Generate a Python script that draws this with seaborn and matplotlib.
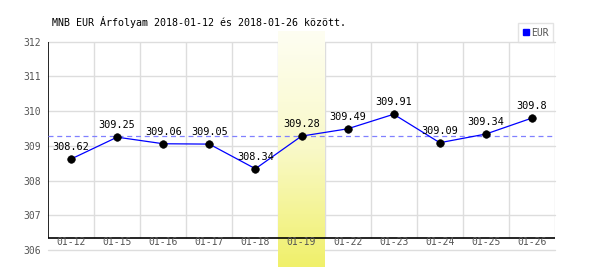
import numpy as np
import pandas as pd
import matplotlib
matplotlib.use("Agg")
import matplotlib.pyplot as plt
import seaborn as sns
from matplotlib.colors import LinearSegmentedColormap
from matplotlib.lines import Line2D

dates = ["01-12", "01-15", "01-16", "01-17", "01-18", "01-19",
         "01-22", "01-23", "01-24", "01-25", "01-26"]
rates = [308.62, 309.25, 309.06, 309.05, 308.34, 309.28,
         309.49, 309.91, 309.09, 309.34, 309.8]
label_texts = ["308.62", "309.25", "309.06", "309.05", "308.34", "309.28",
               "309.49", "309.91", "309.09", "309.34", "309.8"]
average = 309.27
highlight = "01-19"
y_ticks = [306, 307, 308, 309, 310, 311, 312]
title = "MNB EUR Árfolyam 2018-01-12 és 2018-01-26 között."
series_name = "EUR"

df = pd.DataFrame({"date": dates, "rate": rates})

sns.set_style("white")
plt.rcParams["font.family"] = ["DejaVu Sans Mono", "DejaVu Sans"]

fig = plt.figure(figsize=(6, 2.7), dpi=100)
ax = fig.add_axes([0.08, 0.0741, 0.845, 0.7715])
n = len(dates)
ymin_axis = 306.34

grid_c = "#dddddd"
for yv in y_ticks:
    ax.axhline(yv, color=grid_c, lw=1, zorder=0.5, clip_on=False)
for i in range(1, n + 1):
    ax.vlines(i - 0.5, ymin_axis, y_ticks[-1], color=grid_c, lw=1, zorder=0.5)

# highlight band gradient
hi = dates.index(highlight)
cmap = LinearSegmentedColormap.from_list("hl", ["#fefef2", "#f9f9c8", "#f0f06a"])
grad = np.linspace(0, 1, 256).reshape(-1, 1)
im = ax.imshow(grad, cmap=cmap, aspect="auto",
               extent=(hi - 0.5, hi + 0.5, 305.5, 312.27),
               origin="upper", zorder=0.8, interpolation="bilinear")
im.set_clip_on(False)
ax.set_xlim(-0.5, n - 0.5)
ax.set_ylim(y_ticks[0], y_ticks[-1])

ax.hlines(ymin_axis, -0.5, n - 0.5, color="black", lw=1.2, zorder=2)
ax.vlines(-0.5, ymin_axis, y_ticks[-1], color="black", lw=1.2, zorder=2)

ax.axhline(average, color="#8080ff", lw=0.9, ls=(0, (4, 3)), zorder=2)

sns.lineplot(data=df, x="date", y="rate", ax=ax, color="#0000ff", lw=0.9,
             sort=False, zorder=3, legend=False)
sns.scatterplot(data=df, x="date", y="rate", ax=ax, color="black", s=30,
                edgecolor="black", zorder=4, legend=False)
for i, (v, t) in enumerate(zip(rates, label_texts)):
    ax.annotate(t, (i, v), xytext=(0, 5), textcoords="offset points",
                ha="center", va="bottom", fontsize=7.4, color="black", zorder=5)

for s in ax.spines.values():
    s.set_visible(False)
ax.set_xlim(-0.5, n - 0.5)
ax.set_ylim(y_ticks[0], y_ticks[-1])
ax.set_xticks(range(n))
ax.set_xticklabels(dates)
ax.set_yticks(y_ticks)
ax.set_yticklabels([str(v) for v in y_ticks])
ax.tick_params(axis="x", length=0, pad=-9, labelsize=7, labelcolor="#555555")
ax.tick_params(axis="y", length=0, pad=5, labelsize=7, labelcolor="#555555")
ax.xaxis.set_zorder(3)
ax.yaxis.set_zorder(3)
ax.set_xlabel("")
ax.set_ylabel("")
ax.grid(False)

fig.text(52 / 600, 1 - 22 / 270, title, fontsize=7.2, ha="left", va="center",
         color="black")

h = Line2D([], [], marker="s", color="#0000ff", lw=0, markersize=5)
leg = ax.legend([h], [series_name], loc="lower right", bbox_to_anchor=(0.997, 0.998),
                frameon=True, fancybox=False, fontsize=7, handlelength=0.6,
                handletextpad=0.3, borderpad=0.45, borderaxespad=0)
leg.get_frame().set_edgecolor("#dddddd")
leg.get_frame().set_linewidth(1)
for t in leg.get_texts():
    t.set_color("#555555")

fig.savefig("out.png", dpi=100)
